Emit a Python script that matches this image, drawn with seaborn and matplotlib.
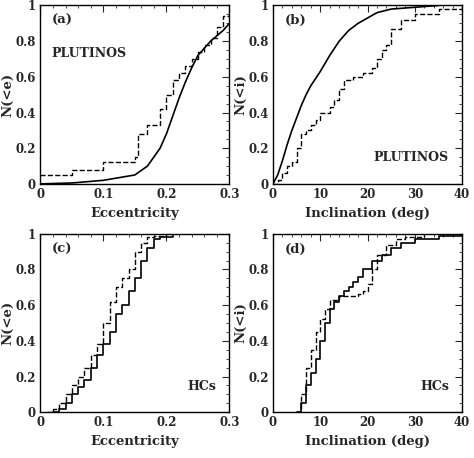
import numpy as np
import matplotlib
matplotlib.use("Agg")
import matplotlib.pyplot as plt
import seaborn as sns
from matplotlib.ticker import FormatStrFormatter

sns.set_style("white")
plt.rcParams['font.family'] = ['DejaVu Serif']
plt.rcParams['font.weight'] = 'bold'

# (a) plutinos eccentricity
a_solid_x = [0, 0.05, 0.1, 0.15, 0.17, 0.19, 0.2, 0.21, 0.22, 0.23, 0.24, 0.25, 0.26, 0.27, 0.28, 0.29, 0.3]
a_solid_y = [0, 0.005, 0.02, 0.05, 0.1, 0.2, 0.28, 0.38, 0.48, 0.57, 0.65, 0.72, 0.76, 0.8, 0.83, 0.86, 0.9]
a_dash_x = [0, 0.05, 0.1, 0.15, 0.155, 0.17, 0.19, 0.2, 0.21, 0.22, 0.23, 0.24, 0.25, 0.26, 0.27, 0.28, 0.29, 0.3]
a_dash_y = [0.05, 0.08, 0.12, 0.15, 0.28, 0.33, 0.42, 0.5, 0.58, 0.62, 0.66, 0.7, 0.74, 0.78, 0.82, 0.88, 0.94, 0.97]
# (b) plutinos inclination
b_solid_x = [0, 1, 2, 3, 4, 5, 6, 7, 8, 10, 12, 14, 16, 18, 20, 22, 25, 30, 35]
b_solid_y = [0, 0.05, 0.13, 0.22, 0.3, 0.37, 0.44, 0.5, 0.55, 0.63, 0.72, 0.8, 0.86, 0.9, 0.93, 0.96, 0.98, 0.99, 1.0]
b_dash_x = [0, 1, 2, 3, 4, 5, 6, 7, 8, 9, 10, 12, 13, 14, 15, 17, 19, 21, 22, 23, 24, 25, 27, 30, 35, 40]
b_dash_y = [0, 0.02, 0.06, 0.1, 0.12, 0.2, 0.28, 0.3, 0.33, 0.36, 0.4, 0.43, 0.47, 0.53, 0.58, 0.6, 0.62, 0.65, 0.7, 0.75, 0.78, 0.87, 0.92, 0.95, 0.98, 1.0]
# (c) HCs eccentricity
c_solid_x = [0.02, 0.03, 0.04, 0.05, 0.06, 0.07, 0.08, 0.09, 0.1, 0.11, 0.12, 0.13, 0.14, 0.15, 0.16, 0.17, 0.18, 0.19, 0.21]
c_solid_y = [0, 0.02, 0.05, 0.1, 0.14, 0.18, 0.25, 0.32, 0.38, 0.45, 0.55, 0.6, 0.68, 0.75, 0.85, 0.92, 0.97, 0.98, 1.0]
c_dash_x = [0.01, 0.02, 0.03, 0.04, 0.05, 0.06, 0.07, 0.08, 0.09, 0.1, 0.11, 0.12, 0.13, 0.14, 0.15, 0.16, 0.17, 0.18, 0.2]
c_dash_y = [0, 0.02, 0.05, 0.1, 0.15, 0.2, 0.25, 0.32, 0.38, 0.5, 0.62, 0.7, 0.75, 0.8, 0.9, 0.95, 0.98, 0.99, 1.0]
# (d) HCs inclination
d_solid_x = [5, 6, 7, 8, 9, 10, 11, 12, 13, 14, 15, 16, 17, 18, 19, 21, 23, 25, 27, 30, 35, 40]
d_solid_y = [0, 0.05, 0.15, 0.22, 0.3, 0.4, 0.5, 0.58, 0.62, 0.65, 0.68, 0.7, 0.73, 0.76, 0.8, 0.85, 0.88, 0.92, 0.95, 0.97, 0.99, 1.0]
d_dash_x = [5, 6, 7, 8, 9, 10, 11, 12, 14, 16, 18, 19, 20, 21, 22, 24, 26, 28, 32]
d_dash_y = [0, 0.1, 0.25, 0.35, 0.45, 0.52, 0.58, 0.63, 0.65, 0.65, 0.66, 0.68, 0.72, 0.8, 0.88, 0.94, 0.97, 0.98, 1.0]

panels = [
    ("(a)", "PLUTINOS", "top", a_solid_x, a_solid_y, a_dash_x, a_dash_y, 0.3, "Eccentricity", "N(<e)", "default"),
    ("(b)", "PLUTINOS", "bottom", b_solid_x, b_solid_y, b_dash_x, b_dash_y, 40, "Inclination (deg)", "N(<i)", "default"),
    ("(c)", "HCs", "bottom", c_solid_x, c_solid_y, c_dash_x, c_dash_y, 0.3, "Eccentricity", "N(<e)", "steps-post"),
    ("(d)", "HCs", "bottom", d_solid_x, d_solid_y, d_dash_x, d_dash_y, 40, "Inclination (deg)", "N(<i)", "steps-post"),
]

fig, axes = plt.subplots(2, 2, figsize=(4.74, 4.58), dpi=100)
plt.subplots_adjust(left=0.085, right=0.975, top=0.988, bottom=0.1, wspace=0.23, hspace=0.28)

for ax, (tag, name, pos, sx, sy, dx, dy, xmax, xl, yl, ds) in zip(axes.flat, panels):
    sns.lineplot(x=sx, y=sy, ax=ax, color="black", lw=1.2, drawstyle=ds)
    sns.lineplot(x=dx, y=dy, ax=ax, color="black", lw=1.0, linestyle="--", drawstyle="steps-post")
    ax.set_xlim(0, xmax)
    ax.set_ylim(0, 1)
    ax.set_xlabel(xl, fontsize=9.5, fontweight="bold")
    ax.set_ylabel(yl, fontsize=9.5, fontweight="bold", labelpad=1)
    ax.set_yticks([0, 0.2, 0.4, 0.6, 0.8, 1])
    ax.yaxis.set_major_formatter(FormatStrFormatter('%g'))
    ax.xaxis.set_major_formatter(FormatStrFormatter('%g'))
    if xmax == 0.3:
        ax.set_xticks([0, 0.1, 0.2, 0.3])
        ax.set_xticks(np.arange(0, 0.31, 0.02), minor=True)
    else:
        ax.set_xticks([0, 10, 20, 30, 40])
        ax.set_xticks(np.arange(0, 41, 2), minor=True)
    ax.set_yticks(np.arange(0, 1.01, 0.05), minor=True)
    ax.tick_params(which="both", direction="in", top=True, right=True, labelsize=8.5, pad=3)
    ax.tick_params(which="major", length=5)
    ax.tick_params(which="minor", length=2.5)
    for s in ax.spines.values():
        s.set_color("black")
        s.set_linewidth(1)
    ax.text(0.06, 0.95, tag, transform=ax.transAxes, fontsize=9.5, fontweight="bold", va="top")
    if pos == "top":
        ax.text(0.06, 0.77, name, transform=ax.transAxes, fontsize=9, fontweight="bold", va="top")
    else:
        ax.text(0.93, 0.11, name, transform=ax.transAxes, fontsize=9, fontweight="bold", ha="right", va="bottom")

fig.savefig("out.png", dpi=100)
